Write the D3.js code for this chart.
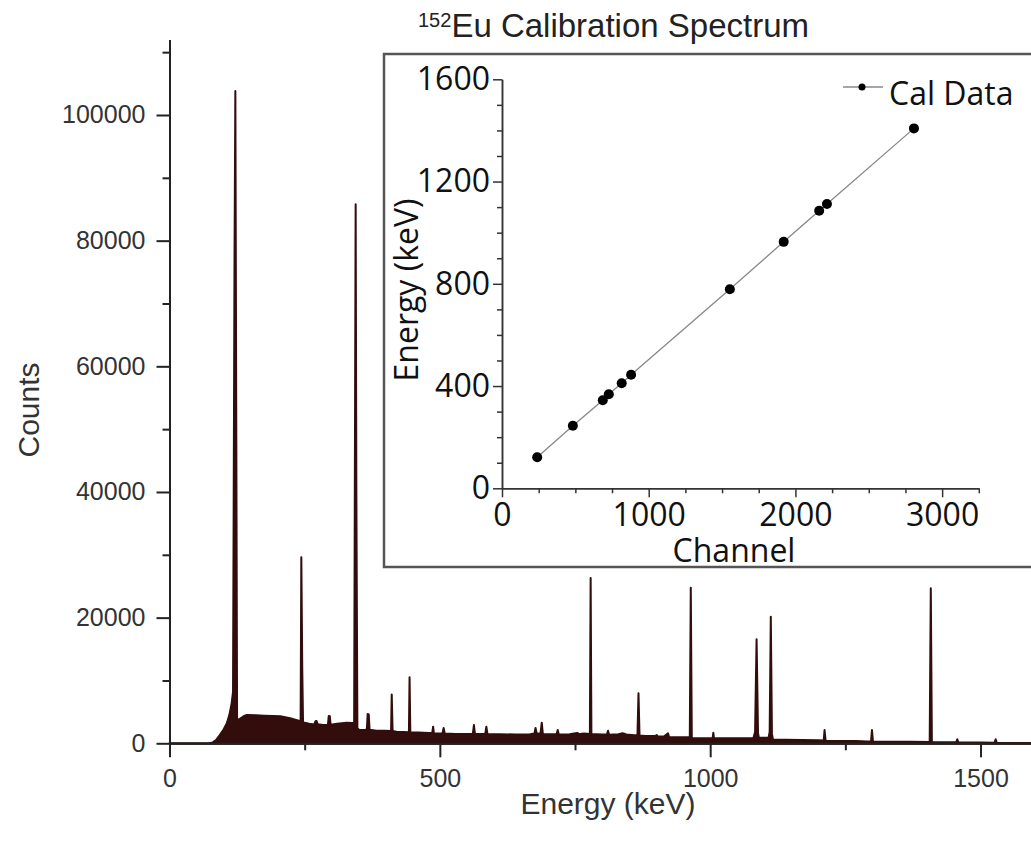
<!DOCTYPE html>
<html>
<head>
<meta charset="utf-8">
<script src="https://cdn.jsdelivr.net/npm/d3@7"></script>
<style>
  body { margin: 0; background: #fff; }
  svg { display: block; }
</style>
</head>
<body>
<div id="chart"></div>
<script>
// spectrum outline: [energy keV, counts]
var spectrum = [
  [0, 0], [74, 0], [80, 150], [86, 500], [93, 1300], [100, 2200], [106, 3200], [111, 4600], [115, 6400], [117.5, 8200],
  [120.3, 78000], [121.8, 103800], [123.2, 60000], [125, 3700],
  [130, 3900], [137, 4300], [143, 4500], [160, 4450], [175, 4400], [191, 4350], [205, 4300], [223, 4000], [239, 3600], [242.5, 3500],
  [243.8, 29600], [245.5, 12000], [247, 3300],
  [250, 3280], [258, 3100], [265, 3020], [268, 3050], [270, 3500], [272, 3550], [274, 3050], [284, 2910], [293, 2950],
  [294.5, 4350], [296.5, 4300], [298, 2950],
  [310, 3100], [327.5, 3280], [338, 3250], [341.5, 3200],
  [343.3, 56000], [344.3, 85800], [345.6, 40000], [347.5, 2400],
  [351, 2120], [362, 2150], [365, 2200], [366.5, 4660], [368.5, 4600], [370, 2150],
  [383, 2000], [398, 2000], [409.8, 1950], [411, 7750], [412.6, 1950],
  [420, 1850], [432, 1800], [442.8, 1750], [444, 10500], [445.4, 1750],
  [460, 1700], [480, 1650], [486, 1650], [487.5, 2640], [489, 1600], [500, 1550], [505, 1550], [507, 2430], [509, 1550],
  [530, 1500], [550, 1500], [561, 1480], [563, 2900], [565, 1480], [584, 1480], [586, 2640], [588, 1480],
  [610, 1450], [640, 1400], [665, 1400], [675, 1550], [677, 2440], [679, 1600], [686, 1500], [688.5, 3280], [690.5, 1500],
  [705, 1450], [716, 1450], [718, 2120], [720, 1400], [740, 1450], [754, 1640], [758, 1450], [766, 1550], [777.5, 1500],
  [778.9, 26300], [780.3, 1500],
  [790, 1450], [800, 1400], [809, 1400], [811, 2000], [813, 1350], [830, 1450], [838, 1590], [845, 1400], [860, 1300], [865.5, 1300],
  [867.4, 7960], [869.3, 1250],
  [880, 1160], [899, 1150], [901, 1320], [903, 1100], [915, 1100], [922, 1590], [924, 1000], [945, 950], [962.3, 950],
  [964.1, 24770], [966, 850],
  [980, 820], [1000, 800], [1004.5, 800], [1005.8, 1690], [1007, 800], [1030, 800], [1060, 800], [1080, 850], [1083, 1800],
  [1085.8, 16550], [1088.5, 1600], [1090, 900], [1108, 900], [1110, 1800],
  [1112.1, 20150], [1114.2, 1500], [1116, 600],
  [1140, 560], [1170, 520], [1200, 480], [1210, 450], [1211.5, 2120], [1213.5, 420], [1240, 380], [1270, 360], [1290, 300],
  [1297.5, 300], [1299.2, 2120], [1301, 300],
  [1330, 260], [1370, 240], [1406, 220],
  [1408, 24670], [1410, 220],
  [1440, 180], [1455, 170], [1457, 640], [1459, 150], [1500, 120], [1526, 100], [1528, 640], [1530, 80], [1560, 60], [1600, 50]
];

// calibration points (inset)
var calChannel = [240, 483, 687, 728, 816, 880, 1553, 1920, 2162, 2215, 2808];
var calEnergy = [121.8, 244.7, 344.3, 367.8, 411.1, 444.0, 778.9, 964.1, 1085.8, 1112.1, 1408.0];

var xTicks = [0, 500, 1000, 1500], xMinor = [250, 750, 1250];
var yTicks = [0, 20000, 40000, 60000, 80000, 100000], yMinor = [10000, 30000, 50000, 70000, 90000, 110000];
var inXTicks = [0, 1000, 2000, 3000], inXMinor = [250, 500, 750, 1250, 1500, 1750, 2250, 2500, 2750, 3250];
var inYTicks = [0, 400, 800, 1200, 1600], inYMinor = [100, 200, 300, 500, 600, 700, 900, 1000, 1100, 1300, 1400, 1500];

var width = 1031, height = 847;
var mainFont = "'Liberation Sans', Arial, sans-serif";
var insetFont = "'Open Sans', sans-serif";
var specColor = "#330c0c";
var fmt = d3.format("d");

var svg = d3.select("#chart").append("svg")
    .attr("width", width)
    .attr("height", height);

var x = d3.scaleLinear().domain([0, 1600]).range([169.5, 1034.6]);
var y = d3.scaleLinear().domain([0, 112000]).range([743.3, 39.6]);

// spectrum area
svg.append("path")
    .datum(spectrum)
    .attr("d", d3.area().x(function(d) { return x(d[0]); }).y0(y(0)).y1(function(d) { return y(d[1]); }))
    .attr("fill", specColor)
    .attr("stroke", specColor)
    .attr("stroke-width", 2)
    .attr("stroke-linejoin", "round");

function styleAxis(g, col, w, font, size, fill) {
  g.selectAll("path, line").attr("stroke", col).attr("stroke-width", w);
  g.selectAll("text").attr("font-family", font).attr("font-size", size).attr("fill", fill);
}

// main axes
var gx = svg.append("g").attr("transform", "translate(0," + y(0) + ")");
gx.call(d3.axisBottom(x).tickValues(xTicks).tickFormat(fmt).tickSize(14).tickPadding(12).tickSizeOuter(0));
gx.append("g").call(d3.axisBottom(x).tickValues(xMinor).tickSize(7).tickFormat("").tickSizeOuter(0));
styleAxis(gx, "#222", 2, mainFont, 25, "#333");

var gy = svg.append("g").attr("transform", "translate(" + x(0) + ",0)");
gy.call(d3.axisLeft(y).tickValues(yTicks).tickFormat(fmt).tickSize(13).tickPadding(11).tickSizeOuter(0));
gy.append("g").call(d3.axisLeft(y).tickValues(yMinor).tickSize(7).tickFormat("").tickSizeOuter(0));
styleAxis(gy, "#222", 2, mainFont, 25, "#333");

svg.append("text")
    .attr("x", 608).attr("y", 814)
    .attr("text-anchor", "middle")
    .attr("font-family", mainFont).attr("font-size", 30).attr("fill", "#333")
    .text("Energy (keV)");

svg.append("text")
    .attr("transform", "translate(39,410) rotate(-90)")
    .attr("text-anchor", "middle")
    .attr("font-family", mainFont).attr("font-size", 30).attr("fill", "#333")
    .text("Counts");

// title
var title = svg.append("text")
    .attr("x", 418).attr("y", 37)
    .attr("font-family", mainFont).attr("fill", "#222");
title.append("tspan").attr("font-size", 20).attr("dy", -10).text("152");
title.append("tspan").attr("font-size", 33).attr("dy", 10).text("Eu Calibration Spectrum");

// inset
var ix = d3.scaleLinear().domain([0, 3250]).range([502, 978.8]);
var iy = d3.scaleLinear().domain([0, 1600]).range([488.3, 79.3]);

svg.append("rect")
    .attr("x", 384).attr("y", 54)
    .attr("width", 660).attr("height", 513)
    .attr("fill", "#fff")
    .attr("stroke", "#555")
    .attr("stroke-width", 2.5);

var igx = svg.append("g").attr("transform", "translate(0," + iy(0) + ")");
igx.call(d3.axisBottom(ix).tickValues(inXTicks).tickFormat(fmt).tickSize(9).tickPadding(6).tickSizeOuter(0));
igx.append("g").call(d3.axisBottom(ix).tickValues(inXMinor).tickSize(5).tickFormat("").tickSizeOuter(0));
styleAxis(igx, "#333", 1.5, insetFont, 32, "#111");

var igy = svg.append("g").attr("transform", "translate(" + ix(0) + ",0)");
igy.call(d3.axisLeft(iy).tickValues(inYTicks).tickFormat(fmt).tickSize(9).tickPadding(3).tickSizeOuter(0));
igy.append("g").call(d3.axisLeft(iy).tickValues(inYMinor).tickSize(5).tickFormat("").tickSizeOuter(0));
styleAxis(igy, "#333", 1.5, insetFont, 32, "#111");

var cal = calChannel.map(function(c, i) { return [c, calEnergy[i]]; });

svg.append("path")
    .datum(cal)
    .attr("d", d3.line().x(function(d) { return ix(d[0]); }).y(function(d) { return iy(d[1]); }))
    .attr("fill", "none")
    .attr("stroke", "#888")
    .attr("stroke-width", 1.3);

svg.selectAll(".cal")
    .data(cal)
    .enter()
    .append("circle")
    .attr("class", "cal")
    .attr("cx", function(d) { return ix(d[0]); })
    .attr("cy", function(d) { return iy(d[1]); })
    .attr("r", 5)
    .attr("fill", "#000");

svg.append("text")
    .attr("x", 734).attr("y", 562)
    .attr("text-anchor", "middle")
    .attr("font-family", insetFont).attr("font-size", 32).attr("fill", "#111")
    .text("Channel");

svg.append("text")
    .attr("transform", "translate(418,290) rotate(-90)")
    .attr("text-anchor", "middle")
    .attr("font-family", insetFont).attr("font-size", 32).attr("fill", "#111")
    .text("Energy (keV)");

// legend
svg.append("line")
    .attr("x1", 843).attr("x2", 883).attr("y1", 87).attr("y2", 87)
    .attr("stroke", "#888").attr("stroke-width", 1.3);
svg.append("circle").attr("cx", 862).attr("cy", 87).attr("r", 3.5).attr("fill", "#000");
svg.append("text")
    .attr("x", 889).attr("y", 105)
    .attr("font-family", insetFont).attr("font-size", 32).attr("fill", "#111")
    .text("Cal Data");
</script>
</body>
</html>
